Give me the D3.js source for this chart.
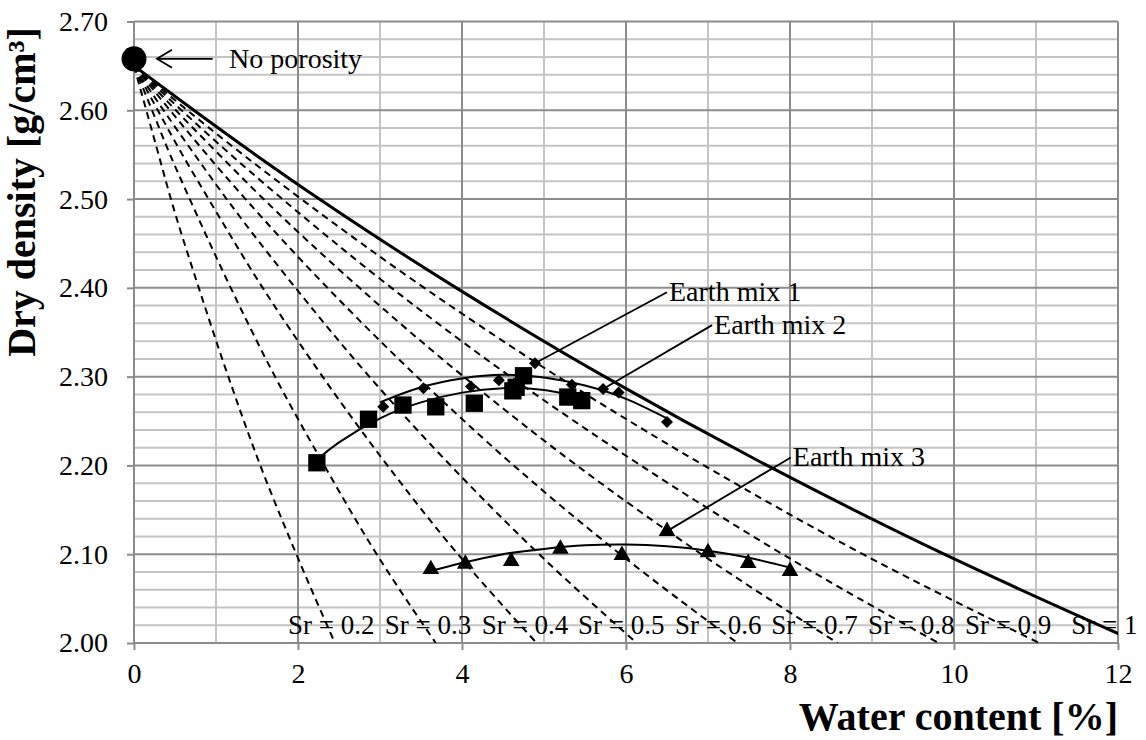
<!DOCTYPE html>
<html>
<head>
<meta charset="utf-8">
<title>Dry density vs water content</title>
<script src="https://cdn.jsdelivr.net/npm/d3@7"></script>
<style>
body { margin: 0; background: #fff; }
svg text { font-family: "Liberation Serif", "Times New Roman", serif; fill: #000; }
</style>
</head>
<body>
<svg id="svg"></svg>
<script>
var width = 1146;
var height = 740;
var margin = {top: 21.5, right: 28, bottom: 97, left: 134};

// saturation lines: water content [%] read at each dry density level
var srValues = [0.2, 0.3, 0.4, 0.5, 0.6, 0.7, 0.8, 0.9, 1.0];
var srLabels = ["Sr = 0.2", "Sr = 0.3", "Sr = 0.4", "Sr = 0.5", "Sr = 0.6", "Sr = 0.7", "Sr = 0.8", "Sr = 0.9", "Sr = 1"];
var densityLevels = [2.65, 2.60, 2.55, 2.50, 2.40, 2.30, 2.20, 2.10, 2.00];
var srWater = [
	[0, 0.15, 0.30, 0.45, 0.79, 1.15, 1.54, 1.98, 2.45],
	[0, 0.22, 0.44, 0.68, 1.18, 1.72, 2.32, 2.96, 3.68],
	[0, 0.29, 0.59, 0.91, 1.57, 2.30, 3.09, 3.95, 4.91],
	[0, 0.36, 0.74, 1.13, 1.97, 2.87, 3.86, 4.94, 6.13],
	[0, 0.44, 0.89, 1.36, 2.36, 3.45, 4.63, 5.93, 7.36],
	[0, 0.51, 1.04, 1.58, 2.75, 4.02, 5.40, 6.92, 8.58],
	[0, 0.58, 1.18, 1.81, 3.14, 4.59, 6.18, 7.91, 9.81],
	[0, 0.65, 1.33, 2.04, 3.54, 5.17, 6.95, 8.89, 11.04],
	[0, 0.73, 1.48, 2.26, 3.93, 5.74, 7.72, 9.88, 12.26]
];

// measured points
var mix1W = [3.04, 3.53, 4.11, 4.45, 4.89, 5.34, 5.72, 5.91, 6.50];
var mix1D = [2.266, 2.287, 2.289, 2.296, 2.315, 2.291, 2.286, 2.282, 2.249];
var mix2W = [2.23, 2.86, 3.28, 3.68, 4.15, 4.62, 4.66, 4.75, 5.29, 5.46];
var mix2D = [2.203, 2.252, 2.268, 2.266, 2.270, 2.284, 2.288, 2.301, 2.277, 2.273];
var mix3W = [3.62, 4.04, 4.60, 5.20, 5.95, 6.50, 7.00, 7.49, 8.00];
var mix3D = [2.083, 2.089, 2.092, 2.106, 2.099, 2.126, 2.102, 2.090, 2.081];

// trend lines
var trend1W = [3.0, 3.5, 4.0, 4.5, 5.0, 5.5, 6.0, 6.5];
var trend1D = [2.271, 2.288, 2.298, 2.302, 2.299, 2.290, 2.275, 2.253];
var trend2W = [2.23, 2.5, 3.0, 3.5, 4.0, 4.5, 5.0, 5.5];
var trend2D = [2.206, 2.226, 2.253, 2.271, 2.282, 2.287, 2.285, 2.276];
var trend3W = [3.62, 4.0, 4.5, 5.0, 5.5, 6.0, 6.5, 7.0, 7.5, 8.0];
var trend3D = [2.081, 2.090, 2.100, 2.106, 2.110, 2.111, 2.109, 2.104, 2.096, 2.085];

var noPorosityW = [0];
var noPorosityD = [2.658];

var xTicks = [0, 2, 4, 6, 8, 10, 12];
var yTicks = [2.00, 2.10, 2.20, 2.30, 2.40, 2.50, 2.60, 2.70];

var svg = d3.select('#svg').attr('width', width).attr('height', height);

var x = d3.scaleLinear().domain([0, 12]).range([margin.left, width - margin.right]);
var y = d3.scaleLinear().domain([2.00, 2.70]).range([height - margin.bottom, margin.top]);

svg.append('defs').append('clipPath').attr('id', 'plot')
	.append('rect')
	.attr('x', x(0)).attr('y', y(2.70))
	.attr('width', x(12) - x(0)).attr('height', y(2.00) - y(2.70));

// grid
var yGrid = d3.range(0, 36).map(function (i) { return {v: 2 + i * 0.02, major: i % 5 == 0}; });
var xGrid = d3.range(0, 13).map(function (i) { return {v: i, major: i % 2 == 0}; });

var grid = svg.append('g');
grid.selectAll('.hmin').data(yGrid.filter(function (d) { return !d.major; }))
	.join('line').attr('class', 'hmin')
	.attr('x1', x(0)).attr('x2', x(12))
	.attr('y1', function (d) { return y(d.v); }).attr('y2', function (d) { return y(d.v); })
	.attr('stroke', '#c4c4c4').attr('stroke-width', 2);
grid.selectAll('.vmin').data(xGrid.filter(function (d) { return !d.major; }))
	.join('line').attr('class', 'vmin')
	.attr('y1', y(2.00)).attr('y2', y(2.70))
	.attr('x1', function (d) { return x(d.v); }).attr('x2', function (d) { return x(d.v); })
	.attr('stroke', '#c4c4c4').attr('stroke-width', 2);
grid.selectAll('.hmaj').data(yGrid.filter(function (d) { return d.major; }))
	.join('line').attr('class', 'hmaj')
	.attr('x1', x(0)).attr('x2', x(12))
	.attr('y1', function (d) { return y(d.v); }).attr('y2', function (d) { return y(d.v); })
	.attr('stroke', '#8c8c8c').attr('stroke-width', 2);
grid.selectAll('.vmaj').data(xGrid.filter(function (d) { return d.major; }))
	.join('line').attr('class', 'vmaj')
	.attr('y1', y(2.00)).attr('y2', y(2.70))
	.attr('x1', function (d) { return x(d.v); }).attr('x2', function (d) { return x(d.v); })
	.attr('stroke', '#8c8c8c').attr('stroke-width', 2);

// axes
var xAxis = svg.append('g')
	.attr('transform', 'translate(0,' + y(2.00) + ')')
	.call(d3.axisBottom(x).tickValues(xTicks).tickSize(7).tickSizeOuter(0).tickPadding(13));
var yAxis = svg.append('g')
	.attr('transform', 'translate(' + x(0) + ',0)')
	.call(d3.axisLeft(y).tickValues(yTicks).tickFormat(d3.format('.2f')).tickSize(7).tickSizeOuter(0).tickPadding(19));
[xAxis, yAxis].forEach(function (a) {
	a.select('.domain').remove();
	a.selectAll('.tick line').attr('stroke', '#8c8c8c').attr('stroke-width', 2);
	a.selectAll('.tick text').attr('font-size', 28).attr('fill', '#000');
});

var plot = svg.append('g').attr('clip-path', 'url(#plot)');

// saturation curves
var srLine = d3.line()
	.x(function (d) { return x(d[0]); })
	.y(function (d) { return y(d[1]); })
	.curve(d3.curveMonotoneY);

plot.selectAll('.sr').data(srValues)
	.join('path').attr('class', 'sr')
	.attr('d', function (d, i) {
		return srLine(srWater[i].map(function (w, j) { return [w, densityLevels[j]]; }));
	})
	.attr('fill', 'none')
	.attr('stroke', '#000')
	.attr('stroke-width', function (d) { return d == 1 ? 3 : 2; })
	.attr('stroke-dasharray', function (d) { return d == 1 ? null : '7,5'; });

// Sr labels near the bottom
svg.selectAll('.srlab').data(srLabels)
	.join('text').attr('class', 'srlab')
	.attr('x', function (d, i) {
		var w = srWater[i][7] + (srWater[i][8] - srWater[i][7]) * 0.8;
		return x(w + 0.05);
	})
	.attr('y', y(2.00) - 9)
	.attr('text-anchor', 'middle')
	.attr('font-size', 27)
	.text(function (d) { return d; });

// trend lines
var pts = function (ws, ds) { return ws.map(function (w, i) { return [w, ds[i]]; }); };
var trendLine = d3.line()
	.x(function (d) { return x(d[0]); })
	.y(function (d) { return y(d[1]); })
	.curve(d3.curveNatural);
[[trend1W, trend1D], [trend2W, trend2D], [trend3W, trend3D]].forEach(function (t) {
	plot.append('path')
		.attr('d', trendLine(pts(t[0], t[1])))
		.attr('fill', 'none').attr('stroke', '#000').attr('stroke-width', 2);
});

// annotations
var notes = [
	{text: 'Earth mix 1', from: [6.50, 2.395], to: [4.89, 2.315]},
	{text: 'Earth mix 2', from: [7.05, 2.358], to: [5.72, 2.286]},
	{text: 'Earth mix 3', from: [8.01, 2.209], to: [6.50, 2.126]}
];
svg.selectAll('.note-line').data(notes)
	.join('line').attr('class', 'note-line')
	.attr('x1', function (d) { return x(d.from[0]); }).attr('y1', function (d) { return y(d.from[1]); })
	.attr('x2', function (d) { return x(d.to[0]); }).attr('y2', function (d) { return y(d.to[1]); })
	.attr('stroke', '#000').attr('stroke-width', 1.8);
svg.selectAll('.note-text').data(notes)
	.join('text').attr('class', 'note-text')
	.attr('x', function (d) { return x(d.from[0]) + 2; })
	.attr('y', function (d) { return y(d.from[1]) + 9; })
	.attr('font-size', 28)
	.text(function (d) { return d.text; });

// markers
svg.selectAll('.m1').data(pts(mix1W, mix1D))
	.join('path').attr('class', 'm1')
	.attr('d', d3.symbol().type(d3.symbolSquare).size(72))
	.attr('transform', function (d) { return 'translate(' + x(d[0]) + ',' + y(d[1]) + ') rotate(45)'; })
	.attr('fill', '#000');
svg.selectAll('.m2').data(pts(mix2W, mix2D))
	.join('path').attr('class', 'm2')
	.attr('d', d3.symbol().type(d3.symbolSquare).size(300))
	.attr('transform', function (d) { return 'translate(' + x(d[0]) + ',' + y(d[1]) + ')'; })
	.attr('fill', '#000');
svg.selectAll('.m3').data(pts(mix3W, mix3D))
	.join('path').attr('class', 'm3')
	.attr('d', d3.symbol().type(d3.symbolTriangle).size(120))
	.attr('transform', function (d) { return 'translate(' + x(d[0]) + ',' + y(d[1]) + ')'; })
	.attr('fill', '#000');

// no porosity point
svg.selectAll('.dot').data(pts(noPorosityW, noPorosityD))
	.join('circle').attr('class', 'dot')
	.attr('cx', function (d) { return x(d[0]); })
	.attr('cy', function (d) { return y(d[1]); })
	.attr('r', 12.5)
	.attr('fill', '#000');

var ay = y(noPorosityD[0]);
svg.append('line')
	.attr('x1', x(0.96)).attr('x2', x(0.28))
	.attr('y1', ay).attr('y2', ay)
	.attr('stroke', '#000').attr('stroke-width', 1.8);
svg.append('path')
	.attr('d', 'M' + (x(0.28) + 15) + ',' + (ay - 9) + 'L' + x(0.28) + ',' + ay + 'L' + (x(0.28) + 15) + ',' + (ay + 9))
	.attr('fill', 'none').attr('stroke', '#000').attr('stroke-width', 1.8);
svg.append('text')
	.attr('x', x(1.16)).attr('y', ay + 9)
	.attr('font-size', 28)
	.text('No porosity');

// axis titles
svg.append('text')
	.attr('transform', 'translate(35,192) rotate(-90)')
	.attr('text-anchor', 'middle')
	.attr('font-size', 40).attr('font-weight', 'bold')
	.text('Dry density [g/cm³]');
svg.append('text')
	.attr('x', x(12)).attr('y', 730)
	.attr('text-anchor', 'end')
	.attr('font-size', 40).attr('font-weight', 'bold')
	.text('Water content [%]');
</script>
</body>
</html>
